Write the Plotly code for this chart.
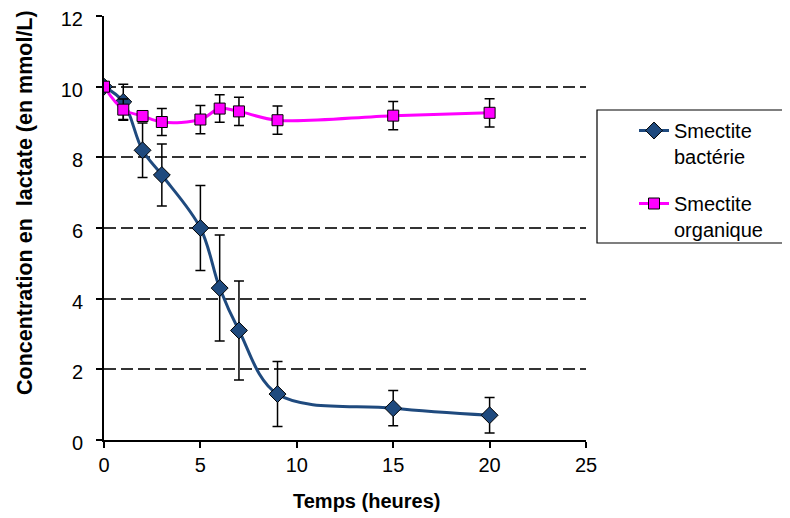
import plotly.graph_objects as go

temps = [0, 1, 2, 3, 5, 6, 7, 9, 15, 20]
bacterie = [10.0, 9.57, 8.2, 7.5, 6.0, 4.3, 3.1, 1.3, 0.9, 0.7]
bacterie_err = [0.0, 0.5, 0.77, 0.88, 1.2, 1.5, 1.4, 0.92, 0.5, 0.5]
organique = [10.0, 9.35, 9.17, 9.0, 9.07, 9.38, 9.3, 9.05, 9.18, 9.26]
organique_err = [0.0, 0.3, 0.15, 0.38, 0.4, 0.39, 0.4, 0.4, 0.4, 0.4]

x_ticks = [0, 5, 10, 15, 20, 25]
y_ticks = [0, 2, 4, 6, 8, 10, 12]

FONT = "Liberation Sans, Arial, sans-serif"

# page body has an 8px default margin: compensate so the figure lands like the reference
OFF = 8
W, H = 790 - OFF, 518 - OFF
PL, PR, PT, PB = 104, 586, 16, 440  # plot area in reference screen pixels

fig = go.Figure()
fig.add_trace(go.Scatter(
    x=temps, y=bacterie, name="Smectite<br>bactérie", mode="lines+markers", legendgroup="a",
    line=dict(color="#1F4A7E", width=3, shape="spline", smoothing=1.0),
    marker=dict(symbol="diamond", size=13, color="#1F4A7E", line=dict(color="black", width=1)),
    error_y=dict(type="data", array=bacterie_err, visible=True, color="black", thickness=1.5, width=5),
))
fig.add_trace(go.Scatter(
    x=temps, y=organique, name="Smectite<br>organique", mode="lines+markers", legendgroup="b",
    line=dict(color="#FF00FF", width=3, shape="spline", smoothing=1.0),
    marker=dict(symbol="square", size=11, color="#FF00FF", line=dict(color="black", width=1)),
    error_y=dict(type="data", array=organique_err, visible=True, color="black", thickness=1.5, width=5),
))

pw, ph = PR - PL, PB - PT

fig.update_layout(
    width=W, height=H,
    margin=dict(l=PL - OFF, r=W - (PR - OFF), t=PT - OFF, b=H - (PB - OFF), autoexpand=False),
    paper_bgcolor="white", plot_bgcolor="white",
    font=dict(family=FONT, size=20, color="black"),
    showlegend=True,
    legend=dict(
        xref="container", yref="container", x=626 / W, y=1 - 103 / H,
        xanchor="left", yanchor="top", valign="top",
        bgcolor="rgba(0,0,0,0)", borderwidth=0,
        font=dict(family=FONT, size=20, color="black"),
        tracegroupgap=18,
    ),
    xaxis=dict(
        range=[0, 25], tickvals=x_ticks, ticktext=[str(v) for v in x_ticks],
        showgrid=False, zeroline=False, showline=True, linecolor="black", linewidth=2,
        ticks="outside", ticklen=6, tickwidth=1.5, tickcolor="black",
        tickfont=dict(size=20), ticklabeloverflow="allow", automargin=False,
    ),
    yaxis=dict(
        range=[0, 12], tickvals=y_ticks, ticktext=[str(v) for v in y_ticks],
        showgrid=True, gridcolor="#333333", gridwidth=1.5, griddash="12px,5px",
        zeroline=False, showline=True, linecolor="black", linewidth=2,
        ticks="outside", ticklen=6, tickwidth=1.5, tickcolor="black",
        tickfont=dict(size=20), ticklabeloverflow="allow", automargin=False,
        ticklabelshift=3, ticklabelstandoff=9,
    ),
    shapes=[dict(
        type="rect", xref="paper", yref="paper",
        x0=(597 - PL) / pw, x1=(784 - PL) / pw,
        y0=(PB - 243) / ph, y1=(PB - 110) / ph,
        line=dict(color="black", width=1.2), fillcolor="rgba(0,0,0,0)",
    )],
    annotations=[
        dict(text="<b>Temps (heures)</b>", xref="paper", yref="paper",
             x=(366 - PL) / pw, y=-(501 - PB) / ph, xanchor="center", yanchor="middle",
             showarrow=False, font=dict(size=20)),
        dict(text="<b>Concentration en&nbsp; lactate (en mmol/L)</b>", xref="paper", yref="paper",
             x=-(PL - 25) / pw, y=(PB - 203) / ph, xanchor="center", yanchor="middle",
             textangle=-90, showarrow=False, font=dict(size=21.5)),
    ],
)

fig.write_html("out.html")
